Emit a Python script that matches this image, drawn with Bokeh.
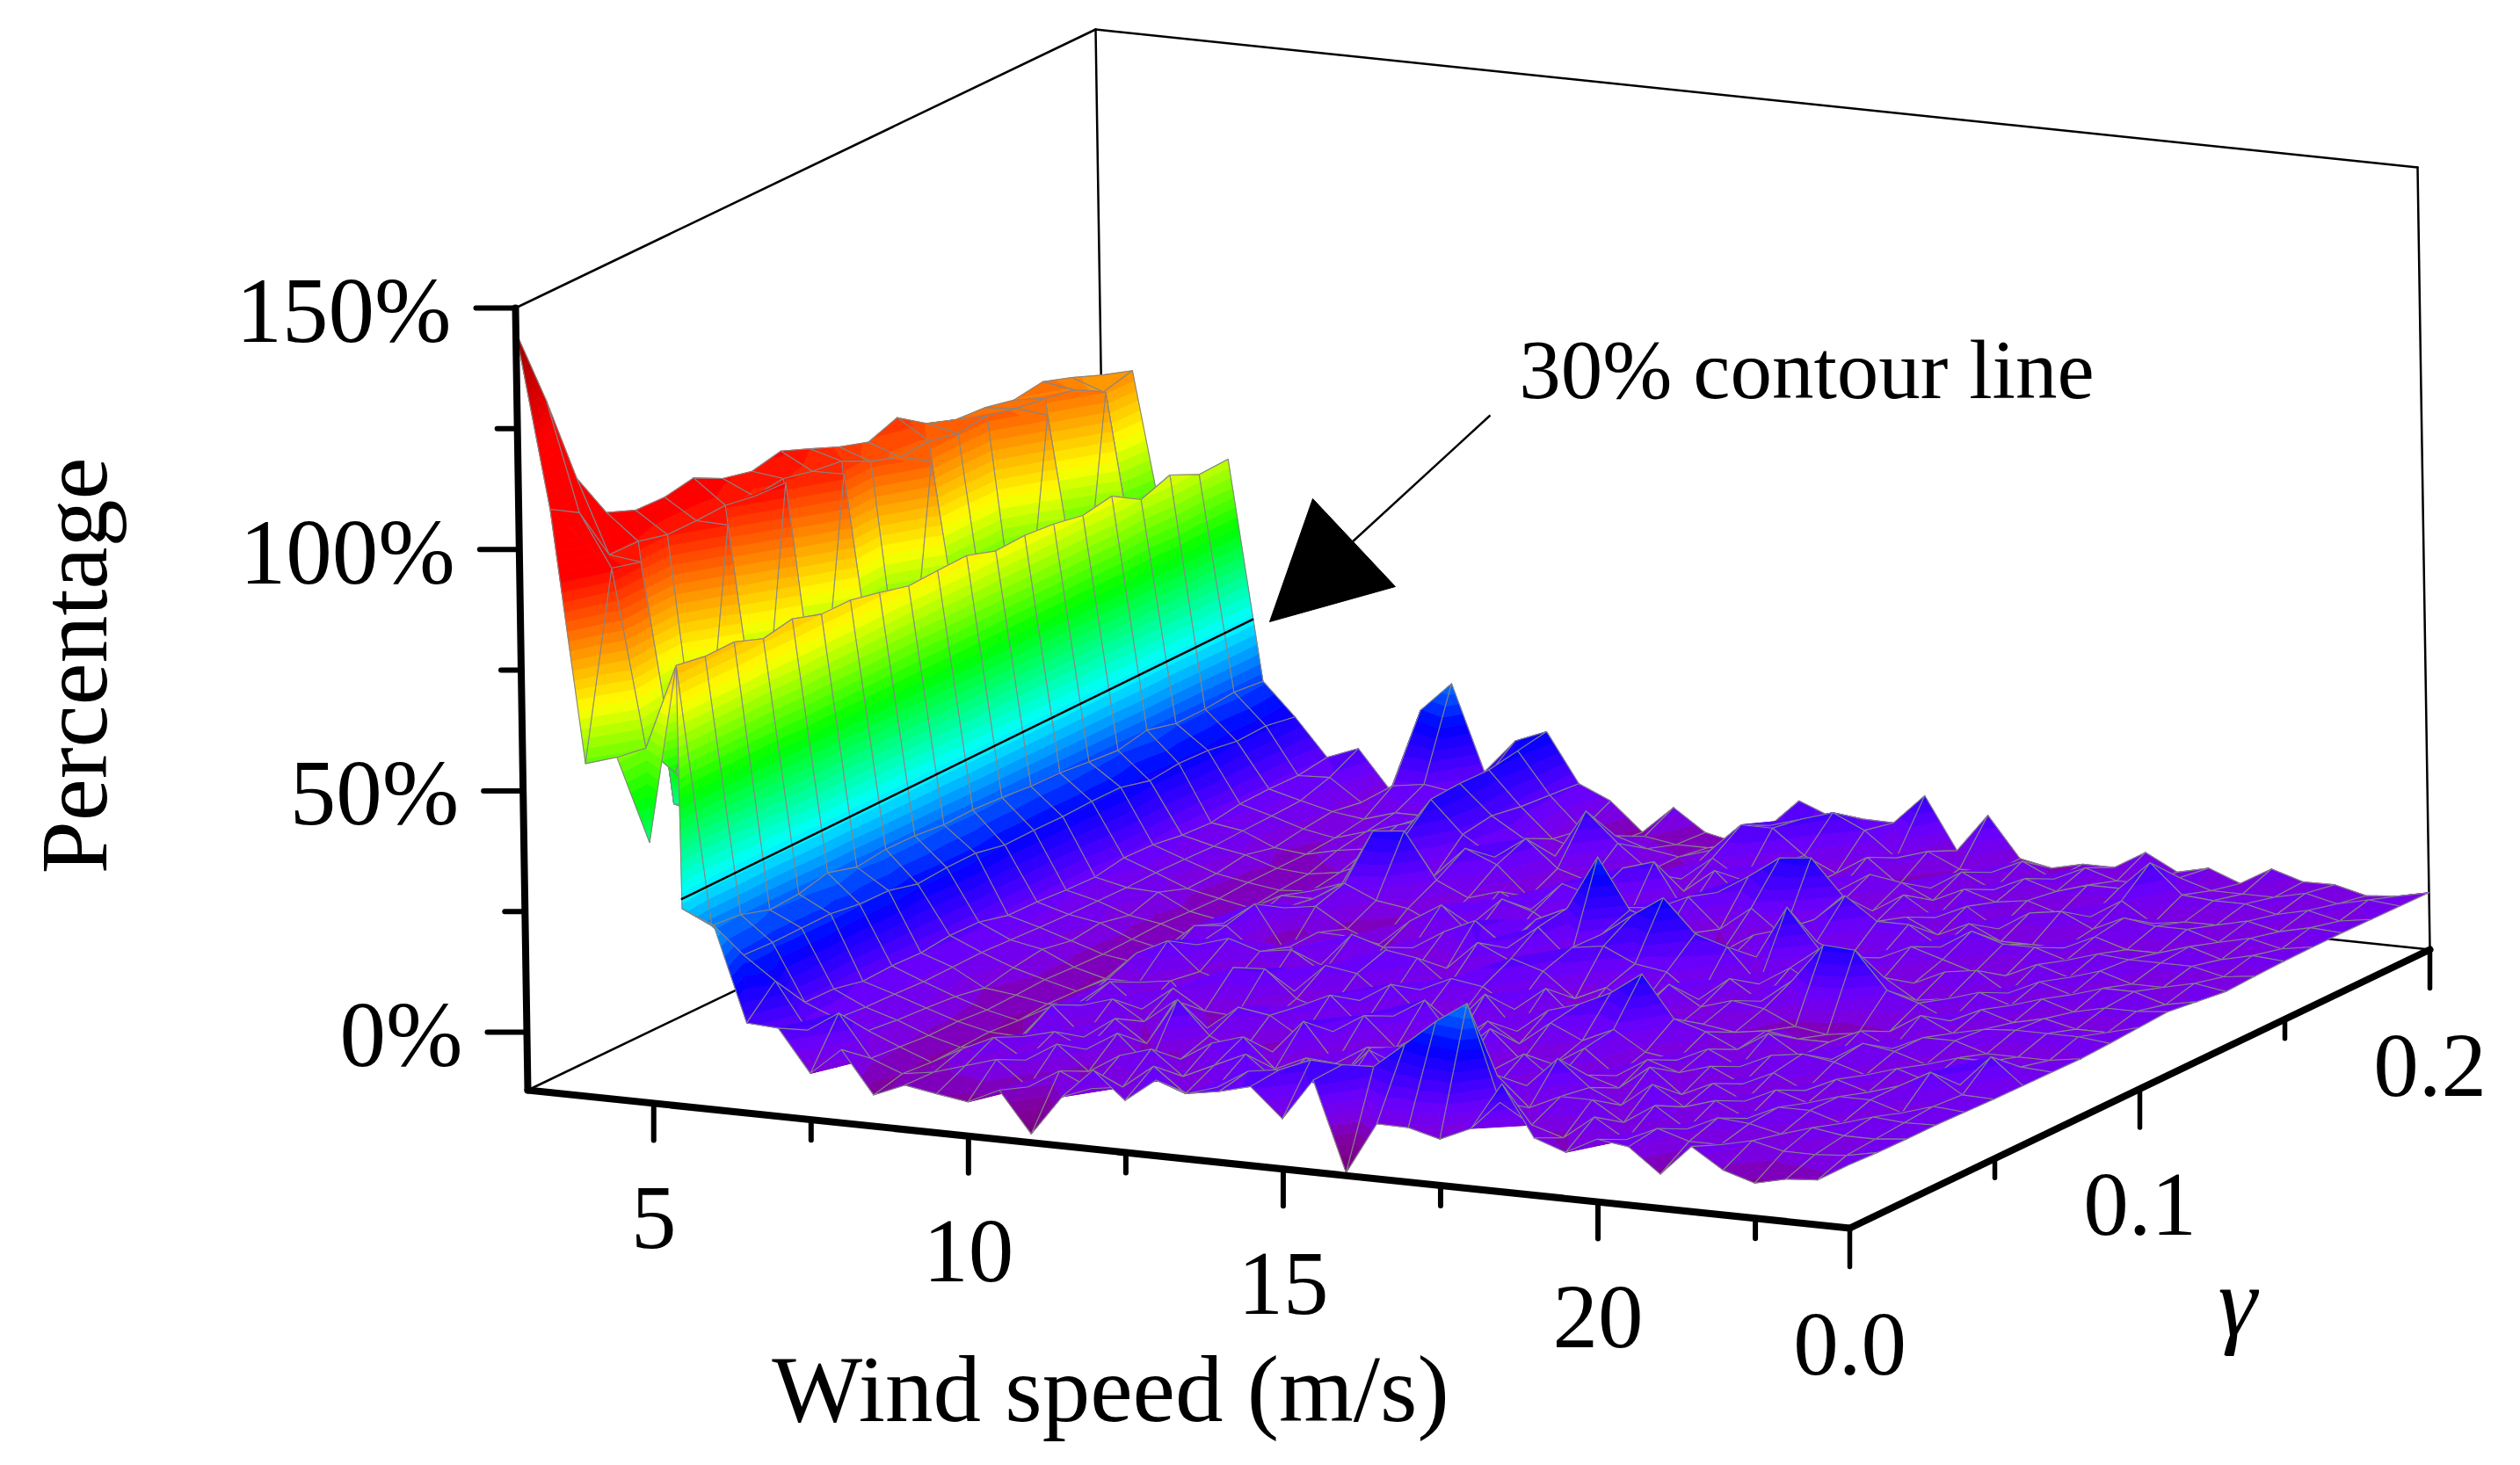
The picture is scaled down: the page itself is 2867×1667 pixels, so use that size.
from bokeh.plotting import figure
from bokeh.models import ColumnDataSource, Range1d
from bokeh.embed import file_html
from bokeh.resources import INLINE
from bokeh.core.properties import value
import numpy as np

# ---------- data ----------
wind_speed = [3 + 0.5 * k for k in range(43)]
gamma = [0.01 * k for k in range(21)]

pct_03_0 = [145,128,109,99,96.6,96.4,97.5,94.5,93.1,94.4,92,89.5,87.6,89.8,85.7,83.6,83.2,81.9,82.8,80.8,78.4]
pct_03_5 = [109,105.4,93.8,93.7,92.2,92.2,92.5,91.5,92.3,90.9,90.1,87.2,85.2,85.6,84.3,85.1,83.7,82.9,81.8,78.5,80]
pct_04_0 = [57,94.6,93,40,35,92,35,95,35,91,35,30,85,35,35,30,83,30,82,40,45]
pct_04_5 = [59,58,50,40,40,40,40,40,40,40,40,40,40,40,40,40,40,40,40,40,38]
pct_05_0 = [42,75.8,74.8,74.9,72.7,73.9,72,72,70.7,69.2,69.5,69.7,67.8,68.1,67.6,66.5,67.6,64,66.2,63.4,63.7]
pct_05_5 = [29,22.6,22,20.1,20.5,22,20.3,21.1,21,20.4,20.6,20.3,19.7,19.6,19,18.5,19.8,18.3,18.4,19,18.4]
pct_06_0 = [26.2,17.2,16.9,17,17.1,16.2,16.1,14.6,15.1,15.2,14,14.2,14.1,14.4,14.4,12.9,13.6,13.4,12.4,12.7,11.7]
pct_06_5 = [6.7,12.5,5.2,5.1,3.8,4.1,3.9,4.6,4.5,3,2.9,2.5,2.3,3.4,3.2,2.3,2,3,3.2,3.1,4]
pct_07_0 = [6.3,3,2.5,2,1.8,1.5,1.6,1.8,1.5,1.2,1,0.9,0.8,1,0.9,0.7,1,1.2,1.5,3.4,6.5]
pct_07_5 = [-2.4,7.2,0.7,0,-0.4,-0.9,-2,-0.7,0.2,-0.9,-0.1,-1.4,0.5,-1.6,-1.4,-0.4,-1.8,-0.8,-0.1,-1.1,-1.5]
pct_08_0 = [3.2,-1.5,-2,-2.5,-2.5,-3,-2.8,-2.5,-2.8,-3,-2.8,-2.5,-2.8,-3,-2.6,-2.5,-2.5,-2,-1,3,15.8]
pct_08_5 = [-5.5,-4,-4.5,-4.3,-4,-4.5,-4,-4.2,-4.5,-4,-4.2,-4.5,-4,-4.3,-3.5,-3,-1,0,1,4,22]
pct_09_0 = [-2.8,-3,-1,-3,-4.3,-1,-3,-1,1.5,-2,1.4,-1,-3,-1,-3,-2,0,2,1,3,4.4]
pct_09_5 = [-3.9,-1,2,-0.7,3,0,2,-1,4.7,1,2.1,3.7,0,-1,-0.7,1,3,4,5,7,11.5]
pct_10_0 = [-4.9,1,-2,1,-3,2,-3,0,-1,3,-3,-6,1,2.9,10.8,6,11.6,12,11.9,13,14.1]
pct_10_5 = [-1.8,-4,2,-2,1.5,-2,2,-6.3,-3,1,-1,-0.8,-3,0,11.5,-0.7,5,6,5,4.5,4]
pct_11_0 = [-10.2,0,-3,2,-3,3,-2,4.1,-4,2,-4,-1,-5.5,-1,2,5.7,1,2,-1,-2,1.1]
pct_11_5 = [-1.8,-3,1,-4,6.8,-2,-2.4,4.5,-3,-2,3,-3,0,-4,-1,3,5.5,-1,-3,-4,-4.7]
pct_12_0 = [4.4,-2,3,-2,0,3,-3,-1,3,-3,1,-2,4,-3,1,-3,0,9,1,-2,1.1]
pct_12_5 = [-1.2,3,-2,2,-3,2,1,-3,2,4,-3,2,-2,3,-2,-4,-2,3,-1,-3,-3.4]
pct_13_0 = [3.7,-2,1,4,-2,-2,4,0,-3,3,-2,5,-3,1,4,-3,0,-2,-2,-3,-4.8]
pct_13_5 = [1.6,0,4,-2,5,0,-2,4,0,-2,4,0,3,-3,2,5,1,-3,0,-2,-2.1]
pct_14_0 = [2.7,4,-1,1,-3,4,1,-2,3,-2,1,5,6,0,-3,7,-2,2,6,3,5.2]
pct_14_5 = [4.4,5,0,-3,1,-2,5,-3,2,5,-2,-1,17.3,4,1,-3,3,-2,6,5,2.6]
pct_15_0 = [-1.6,7.7,-2,4,-2,2,-3,4,-2,3,5,4.8,7,-3,4,2,-3,2,1,7,2.8]
pct_15_5 = [7.1,7.4,3,-3,3,-2,2,-3,3,-2,6,9.5,5,0,-2,6,1,-2,-2,4,2.7]
pct_16_0 = [-11.4,7.7,0,2,-3,4,-2,2,-3,1,3,13.8,4,-3,3,10.5,3,-2,2,-1,9]
pct_16_5 = [-0.6,13,-2,4,-1,-2,3,4,-2,-3,2,7,-2,1,-2,11.2,-1,2,-3,1,-1.7]
pct_17_0 = [-0.7,18.4,4,-1,3,-2,0,7,0,3,-3,5,0,3,2,4,-2,1,-3,-2,6.3]
pct_17_5 = [-2.4,22.8,5,0,-2,2,3,11.6,-3,-1,2,-2,11,1,7.6,-1,2,-2,1,-2,-2]
pct_18_0 = [0.5,3,-1,6.3,0,-3,-1,3,-1,1,-2,2,3,-2,3,1,-2,1,-2,1,-3.3]
pct_18_5 = [10.4,-1,2,1,-2,1,-2,1,-2,0,3,-2,2,-1,3,-2,1,-1,1,-2,-1.8]
pct_19_0 = [-0.1,-3,2,-2,3,-1,1,-2,-1,-3,11,-1,-2,2,-1,1,-3,0,-1,1,-1.8]
pct_19_5 = [-2.4,2,-2,3,-2,1,-2,2,-2,-4,10.6,2,-2,0,3,-2,1,-2,1,-1,2]
pct_20_0 = [1,-2,2.2,-1,1,-2,1,-2,-2,-3,3,-2,1,-2,1,-2,2,-2,1,-1,-1.4]
pct_20_5 = [0.1,1,-2,1,-2,1,2,-2,1,-2,1,-1,2,-2,1,-2,-1,2,7,1,0.1]
pct_21_0 = [-4.9,-1,1,-2,1,-2,1,2,-2,2,-2,1,-2,1,-1,1,2,-2,1,-1,-2.4]
pct_21_5 = [1.5,-1,0.5,1,-1,1,-1,1,1,-1,1,-1,1,-1,1,-1,1,-1,0.5,-1,1.3]
pct_22_0 = [-2.7,0.5,-1,1,1,-1,1,-1,1,0.5,-1,1,-1,1,0.5,-1,1,-1,0.5,-1,-0.7]
pct_22_5 = [-4.7,-1,1,-1,1,1,-1,1,-1,1,0.5,-1,1,-1,0.5,1,-1,0.5,-1,0.5,-0.6]
pct_23_0 = [-3.2,-1,0,1,-1,4.5,-1,1,-1,1,-1,0.5,1,-1,0.5,-1,0.5,-1,0.5,-1,-2.2]
pct_23_5 = [-2.7,-0.5,0,0.5,1,0.5,5.5,0.5,-1,1,-1,0.5,-1,0.5,-1,0.5,-1,0.5,-1,0.5,-1.6]
pct_24_0 = [1.1,0.8,0.7,0.7,0.5,0.3,0.2,0.1,0,0.3,0.7,1.1,0.3,-0.5,-0.2,0,0.1,0.1,0,-0.1,-0.2]

surface = [pct_03_0, pct_03_5, pct_04_0, pct_04_5, pct_05_0, pct_05_5, pct_06_0, pct_06_5,
           pct_07_0, pct_07_5, pct_08_0, pct_08_5, pct_09_0, pct_09_5, pct_10_0, pct_10_5,
           pct_11_0, pct_11_5, pct_12_0, pct_12_5, pct_13_0, pct_13_5, pct_14_0, pct_14_5,
           pct_15_0, pct_15_5, pct_16_0, pct_16_5, pct_17_0, pct_17_5, pct_18_0, pct_18_5,
           pct_19_0, pct_19_5, pct_20_0, pct_20_5, pct_21_0, pct_21_5, pct_22_0, pct_22_5,
           pct_23_0, pct_23_5, pct_24_0]

contour_wind = [5.5, 5.35]
contour_gamma = [0.0, 0.2]
contour_level = [31, 31]

wind_major = [5, 10, 15, 20]
wind_minor = [7.5, 12.5, 17.5, 22.5]
gamma_major = [0.0, 0.1, 0.2]
gamma_minor = [0.05, 0.15]
pct_major = [0, 50, 100, 150]
pct_minor = [25, 75, 125]

# the reference surface has a notch at the cell that starts at wind speed 5, gamma 0
notch_wind, notch_gamma = 5.0, 0.0

# ---------- view: parallel projection of the box ----------
X0, X1 = 3.0, 24.0
G0, G1 = 0.0, 0.2
Z0, Z1 = -12.0, 150.0
ORIGIN = np.array([600.0, 1240.0])
E_X = np.array([1504.0, 157.0])
E_G = np.array([660.0, -317.0])
E_Z = np.array([-14.0, -890.0])


def project(x, g, z):
    return (ORIGIN + (x - X0) / (X1 - X0) * E_X + (g - G0) / (G1 - G0) * E_G
            + (z - Z0) / (Z1 - Z0) * E_Z)


# ---------- colour scale ----------
stop_z = [-14, -8, -4, -1, 3, 14, 32, 50, 68, 95, 122, 150]
stop_r = [120, 125, 130, 122, 105, 0, 0, 0, 255, 255, 255, 128]
stop_g = [0, 0, 0, 0, 0, 0, 255, 255, 255, 0, 0, 0]
stop_b = [110, 140, 170, 225, 250, 255, 255, 0, 0, 0, 0, 0]


def colour(z):
    r = int(round(np.interp(z, stop_z, stop_r)))
    g = int(round(np.interp(z, stop_z, stop_g)))
    b = int(round(np.interp(z, stop_z, stop_b)))
    return f"#{r:02x}{g:02x}{b:02x}"


BAND = 2.0
MESH = "#868686"


def clip(poly, level, keep_above):
    out = []
    n = len(poly)
    for k in range(n):
        a, b = poly[k], poly[(k + 1) % n]
        ina = a[2] >= level if keep_above else a[2] <= level
        inb = b[2] >= level if keep_above else b[2] <= level
        if ina:
            out.append(a)
        if ina != inb:
            t = (level - a[2]) / (b[2] - a[2])
            out.append((a[0] + t * (b[0] - a[0]), a[1] + t * (b[1] - a[1]), level))
    return out


xs, ys, fills, lines, alphas, widths = [], [], [], [], [], []


def add_triangle(tri):
    zs = [v[2] for v in tri]
    lo = int(np.floor(min(zs) / BAND))
    hi = int(np.floor(max(zs) / BAND))
    for b in range(lo, hi + 1):
        poly = clip(tri, b * BAND, True)
        if len(poly) >= 3:
            poly = clip(poly, (b + 1) * BAND, False)
        if len(poly) < 3:
            continue
        c = colour((b + 0.5) * BAND)
        xs.append([v[0] for v in poly])
        ys.append([v[1] for v in poly])
        fills.append(c)
        lines.append(c)
        alphas.append(1.0)
        widths.append(0.9)


def add_outline(pts):
    xs.append([v[0] for v in pts])
    ys.append([v[1] for v in pts])
    fills.append("#000000")
    lines.append(MESH)
    alphas.append(0.0)
    widths.append(1.1)


grid = {}
for j, x in enumerate(wind_speed):
    for i, g in enumerate(gamma):
        z = surface[j][i]
        s = project(x, g, z)
        grid[j, i] = (s[0], s[1], z)

for j in range(len(wind_speed) - 1):
    for i in range(len(gamma) - 2, -1, -1):
        a, b, c, d = grid[j, i], grid[j + 1, i], grid[j + 1, i + 1], grid[j, i + 1]
        if wind_speed[j] == notch_wind and gamma[i] == notch_gamma:
            add_triangle([b, c, d])
            add_outline([b, c, d])
            continue
        if abs(a[2] - c[2]) <= abs(b[2] - d[2]):
            add_triangle([a, c, d])
            add_triangle([a, b, c])
        else:
            add_triangle([a, b, d])
            add_triangle([b, c, d])
        add_outline([a, b, c, d])

# ---------- figure ----------
p = figure(width=2851, height=1651, output_backend="svg", toolbar_location=None,
           x_range=Range1d(0, 2851), y_range=Range1d(1651, 0),
           min_border=0, outline_line_color=None, background_fill_color="white")
p.xaxis.visible = False
p.yaxis.visible = False
p.xgrid.visible = False
p.ygrid.visible = False


def seg(a, b, width):
    p.line([a[0], b[0]], [a[1], b[1]], line_color="black", line_width=width, line_cap="round")


A = project(X0, G0, Z0)
B = project(X1, G0, Z0)
C = project(X1, G1, Z0)
D = project(X0, G1, Z0)
F = project(X0, G0, Z1)
H = project(X0, G1, Z1)
K = project(X1, G1, Z1)

for a, b in [(F, H), (H, K), (K, C), (H, D), (D, A), (D, C)]:
    seg(a, b, 2.5)

src = ColumnDataSource(dict(xs=xs, ys=ys, fill=fills, line=lines, alpha=alphas, w=widths))
p.patches("xs", "ys", source=src, fill_color="fill", fill_alpha="alpha",
          line_color="line", line_width="w", line_join="round")

cx0 = project(contour_wind[0], contour_gamma[0], contour_level[0])
cx1 = project(contour_wind[1], contour_gamma[1], contour_level[1])
seg(cx0, cx1, 2.5)

for a, b in [(F, A), (A, B), (B, C)]:
    seg(a, b, 8)

for z in pct_major + pct_minor:
    s = project(X0, G0, z)
    seg(s, s + np.array([-45 if z in pct_major else -23, 0]), 6)
for x in wind_major + wind_minor:
    s = project(x, G0, Z0)
    seg(s, s + np.array([0, 42 if x in wind_major else 23]), 6)
for g in gamma_major + gamma_minor:
    s = project(X1, g, Z0)
    seg(s, s + np.array([0, 44 if g in gamma_major else 22]), 5.5)

# ---------- annotation arrow ----------
p.line([1695, 1536], [472, 618], line_color="black", line_width=2.4)
p.patch([1493, 1587, 1444], [567, 667, 707], fill_color="black", line_color="black", line_width=1)


def label(px, py, txt, size, angle=0.0, style="normal", align="center"):
    p.text([px], [py], text=[txt], text_font=value("Liberation Serif"), text_font_size=f"{size}px",
           text_font_style=style, text_align=align, text_baseline="middle", text_color="black",
           angle=angle)


for z in pct_major:
    s = project(X0, G0, z)
    label(s[0] - 73, s[1] + 3, f"{z}%", 105, align="right")
for x in wind_major:
    s = project(x, G0, Z0)
    label(s[0], s[1] + 131, f"{x}", 103)
for g in gamma_major:
    s = project(X1, g, Z0)
    label(s[0], s[1] + 132, f"{g:.1f}", 103)
label(2545, 1480, "\u03b3", 112, style="italic")
label(1263, 1580, "Wind speed (m/s)", 109)
label(84, 757, "Percentage", 108, angle=np.pi / 2)
label(2055, 420, "30% contour line", 95)

open("out.html", "w").write(file_html(p, INLINE))
